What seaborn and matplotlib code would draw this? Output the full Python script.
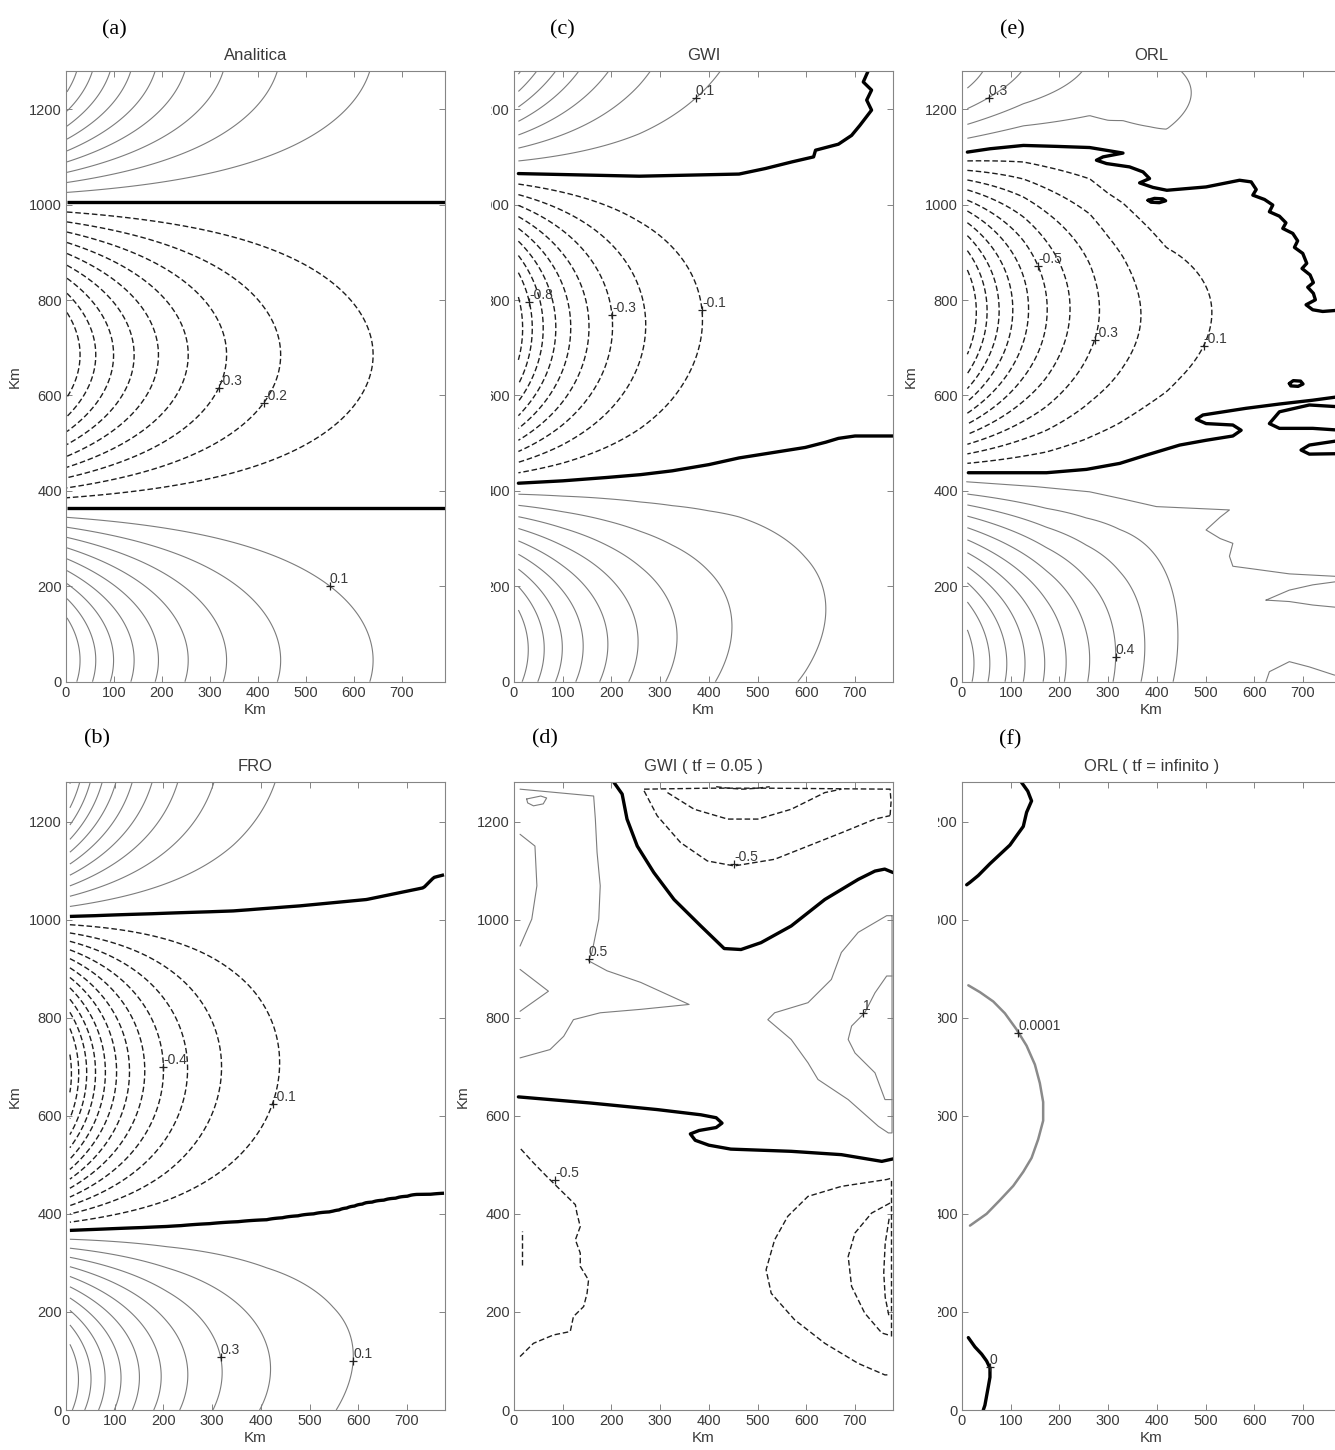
import numpy as np
import matplotlib
matplotlib.use("Agg")
import matplotlib.pyplot as plt
import seaborn as sns
from matplotlib.transforms import Bbox, TransformedBbox

# ------------------------------------------------------------------ data
X_TICKS = [0, 100, 200, 300, 400, 500, 600, 700]
Y_TICKS = [0, 200, 400, 600, 800, 1000, 1200]
Y_MAX = 1280
X_MAX_A = 790
X_MAX = 778

LETTERS = {"a": "(a)", "b": "(b)", "c": "(c)", "d": "(d)", "e": "(e)", "f": "(f)"}
TITLES = {"a": "Analitica", "b": "FRO", "c": "GWI", "d": "GWI ( tf = 0.05 )",
          "e": "ORL", "f": "ORL ( tf = infinito )"}

POS_LEVELS_9 = [0.1, 0.2, 0.3, 0.4, 0.5, 0.6, 0.7, 0.8, 0.9]
POS_LEVELS_11 = [0.1, 0.2, 0.3, 0.4, 0.5, 0.6, 0.7, 0.8, 0.9, 1.0, 1.1]
NEG_LEVELS_9 = [-0.9, -0.8, -0.7, -0.6, -0.5, -0.4, -0.3, -0.2, -0.1]
NEG_LEVELS_11 = [-1.1, -1.0, -0.9, -0.8, -0.7, -0.6, -0.5, -0.4, -0.3, -0.2, -0.1]
NEG_LEVELS_12 = [-1.2] + NEG_LEVELS_11

# (a) Analitica : zero lines, lobe widths, amplitudes, decay lengths (km)
a_zero_lo_x = [0, 790]
a_zero_lo_y = [365, 365]
a_zero_hi_x = [0, 790]
a_zero_hi_y = [1005, 1005]
a_width = [640, 640]
a_amp = [1.0, 1.0, 1.0]
a_offset = [0.0, 0.0, 0.0]
a_decay = [278, 278, 278]
a_lab_x = [317, 408, 547]
a_lab_y = [619, 587, 196]
a_lab_t = ["-0.3", "-0.2", "0.1"]

# (b) FRO
b_zero_lo_x = [0, 207, 412, 549, 617, 720, 778]
b_zero_lo_y = [366, 374, 388, 405, 422, 439, 441]
b_zero_hi_x = [0, 343, 480, 617, 734, 755, 778]
b_zero_hi_y = [1006, 1017.6, 1028, 1041, 1065, 1086, 1092]
b_width = [610, 680]
b_amp = [1.11, 1.28, 1.1]
b_offset = [0.0, 0.0, 0.0]
b_decay = [245, 172, 185]
b_lab_x = [199, 433, 282, 546]
b_lab_y = [701, 623, 102, 103]
b_lab_t = ["-0.4", "-0.1", "0.3", "0.1"]

# (c) GWI
c_zero_lo_x = [9, 100, 190, 260, 325, 400, 462, 530, 598, 640, 666, 700, 778]
c_zero_lo_y = [416, 421, 428, 434, 442, 455, 469, 480, 491, 502, 510, 515, 515]
c_zero_hi_x = [0, 257, 462, 516, 571, 615, 666, 693, 710, 734, 760, 778]
c_zero_hi_y = [1065, 1060, 1064, 1076, 1090, 1100, 1127, 1145, 1166, 1198, 1300, 1400]
c_zero_line_x = [9, 257, 462, 516, 570.6, 615, 619, 666, 693, 710, 734, 724, 734, 717, 727]
c_zero_line_y = [1065, 1059.5, 1064, 1075.6, 1089.5, 1100, 1114, 1126.6, 1145, 1166, 1198,
                 1219, 1240, 1257, 1280]
c_width = [700, 800]
c_amp = [1.0, 1.0, 1.0]
c_offset = [0.0, 0.0, 0.0]
c_decay = [278, 168, 210]
c_lab_x = [370, 36, 213, 400]
c_lab_y = [1226, 796, 768, 782]
c_lab_t = ["0.1", "-0.8", "-0.3", "-0.1"]

# (e) ORL
e_zero_lo_fx = [0, 173, 255, 324, 378, 447, 501, 556, 650, 778]
e_zero_lo_fy = [438, 438, 445, 458, 475, 496, 506, 515, 560, 580]
e_zero_hi_fx = [0, 126, 262, 300, 330, 385, 420, 501, 570, 604, 638, 672, 703, 725, 778]
e_zero_hi_fy = [1110, 1124, 1120, 1100, 1090, 1055, 1030, 1037, 1051, 1030, 999, 950, 880, 800, 778]
e_width = [800, 400]
e_amp = [1.667, 1.15, 0.48]
e_offset = [-0.487, 0.0, 0.0]
e_decay = [500, 210, 300]
e_lev_lo = [0.2, 0.3, 0.4, 0.5, 0.6, 0.7, 0.8, 0.9, 1.0, 1.1]
e_lev_hi = [0.1, 0.2, 0.3, 0.4]
e_zero1_x = [13, 173.5, 255.5, 324, 378.5, 447, 501, 556, 573, 556, 501, 481, 494.5, 583, 651.6,
             720, 778]
e_zero1_y = [438, 438, 445, 457.6, 475, 496, 506, 515, 527, 538, 541, 550, 559, 573, 582, 590, 598]
e_zero2_x = [778, 713, 651.6, 631, 651.6, 720, 778]
e_zero2_y = [576, 580, 565.7, 541, 531, 531, 527]
e_zero3_x = [778, 713, 696, 713, 778]
e_zero3_y = [506, 496, 485.5, 477, 478]
e_zero4_x = [672, 680, 695, 700, 690, 675, 672]
e_zero4_y = [625, 631, 630, 624, 619, 620, 625]
e_zero5_x = [11, 57.4, 126, 194, 262, 330.5, 289.5, 276, 296.7, 344, 371.6, 385, 364.6, 392, 420.5,
             501, 569.7, 593.6, 604, 597, 621, 638, 631, 651.6, 665, 658.5, 679, 689, 682.4, 699.5,
             707.7, 698, 714.5, 721.3, 709.7, 721.3, 725.4, 706.3, 720, 740.4, 778]
e_zero5_y = [1110, 1117, 1124, 1122, 1119.6, 1108, 1100, 1093, 1086, 1079, 1068.5, 1054.6, 1045.5,
             1036, 1030, 1037, 1051, 1047.6, 1031.6, 1019.8, 1010.7, 999, 985, 975.7, 961.8, 950,
             939.6, 924, 910.3, 897.7, 876.8, 866, 852.6, 836.5, 826.8, 814, 800.4, 790, 779.5,
             776, 779]
e_zero6_x = [382, 395, 412, 418, 405, 388, 382]
e_zero6_y = [1009, 1013, 1012, 1008, 1004, 1005, 1009]
e_pos1_x = [9.5, 150, 262, 330, 399, 549, 530, 501, 530, 556, 549, 556, 600, 672, 764, 778]
e_pos1_y = [419, 409, 398, 383, 367, 360, 345, 318, 300, 290, 263, 242, 236, 226, 221, 220]
e_pos2_x = [624, 672, 720, 778, 778, 720, 672, 624]
e_pos2_y = [171, 192, 203, 211, 155, 160.7, 168, 171]
e_pos3_x = [624, 631, 672, 713, 764, 778]
e_pos3_y = [0, 21, 42, 31, 14, 12]
e_lab_x = [57, 119, 259, 488, 290]
e_lab_y = [1219, 856, 720, 709, 52]
e_lab_t = ["0.3", "-0.5", "-0.3", "-0.1", "0.4"]

# (d) GWI ( tf = 0.05 ) : contour polylines (km)
d_zero1_x = [205, 222, 232, 253, 287, 328.5, 383.5, 431.5, 466, 507, 569, 638, 706.6, 741, 761, 778]
d_zero1_y = [1280, 1256, 1205, 1150, 1096, 1041, 987, 941, 939, 953, 987, 1041, 1082, 1099, 1103, 1096]
d_zero2_x = [9, 157, 294, 383.5, 415, 427, 415, 380, 362, 372, 400, 445, 569, 672, 755, 778]
d_zero2_y = [638.5, 626, 612.6, 602, 596, 585, 576, 570, 563, 550, 540, 532, 527.5, 520.7, 507, 512]
d_pos1_x = [12.4, 163.5, 167, 170.5, 177, 174, 160, 153, 191, 260, 359.4, 260, 177, 122, 102, 74, 12.4]
d_pos1_y = [1266, 1252, 1205, 1137, 1069, 1001, 933, 916, 895.6, 872, 827, 817, 810, 796, 762, 735, 718]
d_pos2_x = [12.4, 43, 47, 36.5, 12.4]
d_pos2_y = [1174, 1150, 1069, 1001, 946]
d_pos3_x = [12.4, 70.7, 12.4]
d_pos3_y = [898.5, 854, 813]
d_pos4_x = [26, 55, 67, 60, 40, 28, 26]
d_pos4_y = [1246, 1252, 1248, 1236, 1232, 1238, 1246]
d_pos5_x = [776, 765, 706.6, 672, 651.5, 603.5, 535, 521, 569, 603.5, 624, 686, 748, 768.5, 776, 776]
d_pos5_y = [1008, 1008, 974, 933, 878, 830.6, 810, 796, 755.6, 708, 674, 633, 578.5, 565, 565, 1008]
d_pos6_x = [776, 765, 741, 720, 693, 686, 700, 741, 761.5, 776]
d_pos6_y = [885, 885, 850.7, 810, 783, 755.6, 728, 687.6, 633, 633]
d_neg1_x = [267, 294, 342, 397, 452, 535, 603.5, 672, 741, 772]
d_neg1_y = [1262.6, 1211.6, 1157, 1119.6, 1109.5, 1123, 1150, 1177, 1205, 1212]
d_neg2_x = [315, 370, 438.6, 500.5, 569, 638, 672]
d_neg2_y = [1259, 1225, 1205, 1205, 1225, 1259, 1266]
d_neg3_x = [267, 400, 520, 772, 774, 772]
d_neg3_y = [1266, 1268, 1268, 1266, 1240, 1212]
d_neg4_x = [415, 440, 470, 500, 525]
d_neg4_y = [1271, 1268, 1266, 1268, 1271]
d_neg5_x = [12.4, 40, 81, 115.5, 122, 143, 150, 153, 136, 136, 126, 136, 129, 126, 95, 67.4, 40, 12.4]
d_neg5_y = [109, 136, 153, 160, 190.5, 211, 238, 265, 293, 320, 347, 374, 402, 418.6, 449, 476, 504, 534]
d_neg6_x = [16, 16]
d_neg6_y = [296, 364]
d_neg7_x = [772, 765, 672, 603.5, 562, 535, 517.5, 528, 576, 638, 706.6, 761.5, 772]
d_neg7_y = [472, 470, 456, 435.6, 395, 347, 286, 238, 184, 136, 95, 71.5, 72]
d_neg8_x = [772, 734, 700, 686, 693, 720, 755, 772]
d_neg8_y = [422, 401.5, 361, 313, 252, 197.5, 157, 152]
d_neg9_x = [770, 762, 759, 762, 770]
d_neg9_y = [390, 340, 280, 230, 190]
d_neg10_x = [774, 774]
d_neg10_y = [150, 470]
d_lab_x = [153, 452, 717, 84.5]
d_lab_y = [919, 1113, 810, 470]
d_lab_t = ["0.5", "-0.5", "1", "-0.5"]

# (f) ORL ( tf = infinito )
f_zero1_x = [122, 135, 142.8, 132.6, 125.8, 112, 98.4, 77.9, 57.4, 33.5, 16.4, 9.6]
f_zero1_y = [1280, 1262, 1242, 1218.7, 1190, 1171, 1152, 1133, 1114, 1090, 1076, 1071]
f_pos1_x = [13, 36.9, 64.2, 88, 112, 132.5, 149.6, 159.8, 166.6, 166.6, 156.4, 142.8, 125.7, 105.2,
            77.9, 50.5, 30, 16.4]
f_pos1_y = [866, 852, 833, 809, 776, 743, 704.5, 666.5, 628, 590, 552, 514, 485.6, 457, 428, 400,
            385.6, 376]
f_zero2_x = [13, 26.6, 40.3, 50.5, 57.4, 57.4, 54, 50.5, 47, 43.7]
f_zero2_y = [147.6, 128.6, 114, 100, 85.7, 66.8, 47.6, 28.6, 9.6, 0]
f_lab_x = [115, 57]
f_lab_y = [769, 88]
f_lab_t = ["0.0001", "0"]

# ------------------------------------------------------------------ style
sns.set_theme(style="ticks")
plt.rcParams["font.family"] = ["Liberation Sans", "DejaVu Sans"]
plt.rcParams["lines.dashed_pattern"] = [4.0, 2.0]
plt.rcParams["axes.unicode_minus"] = False

TXT = "#3a3a3a"
POS_C, POS_LW = "#7c7c7c", 0.8
NEG_C, NEG_LW = "#1e1e1e", 1.0
ZERO_C, ZERO_LW = "#000000", 2.4

W_PX, H_PX = 1335, 1450
fig = plt.figure(figsize=(W_PX / 100, H_PX / 100), dpi=100)
fig.patch.set_facecolor("white")

BOXES = {"a": (66, 71, 445, 681.7), "c": (514, 71, 893, 681.7), "e": (962, 71, 1341, 681.7),
         "b": (66, 782.3, 445, 1410), "d": (514, 782.3, 893, 1410), "f": (962, 782.3, 1341, 1410)}
LETTER_POS = {"a": (114, 30), "c": (562, 30), "e": (1012, 30),
              "b": (97, 739), "d": (545, 739), "f": (1010, 740)}


def new_ax(key):
    l, t, r, b = BOXES[key]
    return fig.add_axes([l / W_PX, 1 - b / H_PX, (r - l) / W_PX, (b - t) / H_PX])


def pline(ax, xs, ys, kind):
    st = {"zero": dict(color=ZERO_C, linewidth=ZERO_LW),
          "pos": dict(color=POS_C, linewidth=POS_LW),
          "neg": dict(color=NEG_C, linewidth=NEG_LW, linestyle="--"),
          "fgray": dict(color="#8a8a8a", linewidth=1.8)}[kind]
    sns.lineplot(x=np.asarray(xs, float), y=np.asarray(ys, float), sort=False,
                 estimator=None, ax=ax, **st)


def field_contours(ax, xmax, x0, lo, hi, width, amp, offset, decay,
                   lev_lo, lev_mid, lev_hi, draw_zero):
    xg = np.arange(x0, xmax + 0.1, 4.0)
    yg = np.arange(0, Y_MAX + 0.1, 4.0)
    X, Y = np.meshgrid(xg, yg)
    z1 = np.interp(X, lo[0], lo[1])
    z2 = np.interp(X, hi[0], hi[1])
    g = [np.maximum(amp[i] * np.exp(-X / decay[i]) + offset[i], 0.0) for i in range(3)]
    r_lo = np.clip((z1 - Y) / width[0], 0, 1)
    r_mid = np.clip((Y - z1) / (z2 - z1), 0, 1)
    r_hi = np.clip((Y - z2) / width[1], 0, 1)
    f_lo = np.where(Y < z1, np.sin(np.pi * r_lo) * g[0], 0.0)
    f_mid = np.where((Y >= z1) & (Y <= z2), -np.sin(np.pi * r_mid) * g[1], 0.0)
    f_hi = np.where(Y > z2, np.sin(np.pi * r_hi) * g[2], 0.0)
    sets = []
    sets.append(ax.contour(X, Y, f_lo, levels=lev_lo, colors=POS_C, linewidths=POS_LW,
                           linestyles="solid"))
    sets.append(ax.contour(X, Y, f_mid, levels=lev_mid, colors=NEG_C, linewidths=NEG_LW,
                           linestyles="dashed"))
    sets.append(ax.contour(X, Y, f_hi, levels=lev_hi, colors=POS_C, linewidths=POS_LW,
                           linestyles="solid"))
    if draw_zero:
        psi = f_lo + f_mid + f_hi
        ax.contour(X, Y, psi, levels=[0.0], colors=ZERO_C, linewidths=ZERO_LW,
                   linestyles="solid")
    return sets


def snap(sets, x, y, level):
    best, bd = (x, y), np.inf
    for cs in sets:
        for i, lv in enumerate(cs.levels):
            if abs(lv - level) > 1e-9:
                continue
            v = cs.get_paths()[i].vertices
            if len(v) == 0:
                continue
            d = (v[:, 0] - x) ** 2 + (v[:, 1] - y) ** 2
            j = int(np.argmin(d))
            if d[j] < bd:
                bd, best = d[j], (v[j, 0], v[j, 1])
    return best


def labels(ax, xs, ys, ts, sets=None):
    for x, y, t in zip(xs, ys, ts):
        if sets:
            x, y = snap(sets, x, y, float(t))
        ax.plot([x], [y], marker="+", ms=6, mew=0.9, color="#222222", ls="none")
        ax.text(x, y, t, fontsize=10, color=TXT, ha="left", va="bottom")


def style_axes(ax, key, xmax, show_ylabel=True, clip_px=None):
    ax.set_xlim(0, xmax)
    ax.set_ylim(0, Y_MAX)
    ax.set_xticks(X_TICKS)
    ax.set_yticks(Y_TICKS)
    ax.tick_params(direction="in", length=4, width=0.6, color="#707070", labelsize=10.5,
                   labelcolor=TXT, top=True, right=True, pad=3)
    for s in ax.spines.values():
        s.set_visible(True)
        s.set_color("#858585")
        s.set_linewidth(0.8)
    ax.set_facecolor("white")
    ax.grid(False)
    ax.set_xlabel("Km", fontsize=11, color=TXT, labelpad=2)
    ax.set_ylabel("Km" if show_ylabel else "", fontsize=11, color=TXT, labelpad=5)
    ax.set_title(TITLES[key], fontsize=12, color=TXT, pad=8)
    if clip_px is not None:
        bb = TransformedBbox(Bbox([[clip_px / W_PX, 0.0], [1.0, 1.0]]), fig.transFigure)
        for lbl in ax.get_yticklabels():
            lbl.set_clip_box(bb)
            lbl.set_clip_on(True)
    lx, ly = LETTER_POS[key]
    fig.text(lx / W_PX, 1 - ly / H_PX, LETTERS[key], family=["Liberation Serif", "DejaVu Serif"],
             fontsize=16, ha="center", va="center", color="black")


# ------------------------------------------------------------------ (a)
ax = new_ax("a")
sets = field_contours(ax, X_MAX_A, 2.0, (a_zero_lo_x, a_zero_lo_y), (a_zero_hi_x, a_zero_hi_y),
                      a_width, a_amp, a_offset, a_decay,
                      POS_LEVELS_9, NEG_LEVELS_9, POS_LEVELS_9, True)
labels(ax, a_lab_x, a_lab_y, a_lab_t, sets)
style_axes(ax, "a", X_MAX_A)

# ------------------------------------------------------------------ (b)
ax = new_ax("b")
sets = field_contours(ax, X_MAX, 8.0, (b_zero_lo_x, b_zero_lo_y), (b_zero_hi_x, b_zero_hi_y),
                      b_width, b_amp, b_offset, b_decay,
                      POS_LEVELS_11, NEG_LEVELS_12, POS_LEVELS_11, True)
labels(ax, b_lab_x, b_lab_y, b_lab_t, sets)
style_axes(ax, "b", X_MAX)

# ------------------------------------------------------------------ (c)
ax = new_ax("c")
sets = field_contours(ax, X_MAX, 9.0, (c_zero_lo_x, c_zero_lo_y), (c_zero_hi_x, c_zero_hi_y),
                      c_width, c_amp, c_offset, c_decay,
                      POS_LEVELS_9, NEG_LEVELS_9, POS_LEVELS_9, False)
pline(ax, c_zero_lo_x, c_zero_lo_y, "zero")
pline(ax, c_zero_line_x, c_zero_line_y, "zero")
labels(ax, c_lab_x, c_lab_y, c_lab_t, sets)
style_axes(ax, "c", X_MAX, show_ylabel=False, clip_px=491)

# ------------------------------------------------------------------ (e)
ax = new_ax("e")
sets = field_contours(ax, X_MAX, 11.0, (e_zero_lo_fx, e_zero_lo_fy), (e_zero_hi_fx, e_zero_hi_fy),
                      e_width, e_amp, e_offset, e_decay,
                      e_lev_lo, NEG_LEVELS_11, e_lev_hi, False)
for xs, ys in [(e_zero1_x, e_zero1_y), (e_zero2_x, e_zero2_y), (e_zero3_x, e_zero3_y),
               (e_zero4_x, e_zero4_y), (e_zero5_x, e_zero5_y), (e_zero6_x, e_zero6_y)]:
    pline(ax, xs, ys, "zero")
for xs, ys in [(e_pos1_x, e_pos1_y), (e_pos2_x, e_pos2_y), (e_pos3_x, e_pos3_y)]:
    pline(ax, xs, ys, "pos")
labels(ax, e_lab_x, e_lab_y, e_lab_t, sets)
style_axes(ax, "e", X_MAX)

# ------------------------------------------------------------------ (d)
ax = new_ax("d")
for xs, ys in [(d_zero1_x, d_zero1_y), (d_zero2_x, d_zero2_y)]:
    pline(ax, xs, ys, "zero")
for xs, ys in [(d_pos1_x, d_pos1_y), (d_pos2_x, d_pos2_y), (d_pos3_x, d_pos3_y),
               (d_pos4_x, d_pos4_y), (d_pos5_x, d_pos5_y), (d_pos6_x, d_pos6_y)]:
    pline(ax, xs, ys, "pos")
for xs, ys in [(d_neg1_x, d_neg1_y), (d_neg2_x, d_neg2_y), (d_neg3_x, d_neg3_y),
               (d_neg4_x, d_neg4_y), (d_neg5_x, d_neg5_y), (d_neg6_x, d_neg6_y),
               (d_neg7_x, d_neg7_y), (d_neg8_x, d_neg8_y), (d_neg9_x, d_neg9_y),
               (d_neg10_x, d_neg10_y)]:
    pline(ax, xs, ys, "neg")
labels(ax, d_lab_x, d_lab_y, d_lab_t)
style_axes(ax, "d", X_MAX)

# ------------------------------------------------------------------ (f)
ax = new_ax("f")
pline(ax, f_zero1_x, f_zero1_y, "zero")
pline(ax, f_zero2_x, f_zero2_y, "zero")
pline(ax, f_pos1_x, f_pos1_y, "fgray")
labels(ax, f_lab_x, f_lab_y, f_lab_t)
style_axes(ax, "f", X_MAX, show_ylabel=False, clip_px=938)

fig.savefig("out.png", dpi=100, facecolor="white")
